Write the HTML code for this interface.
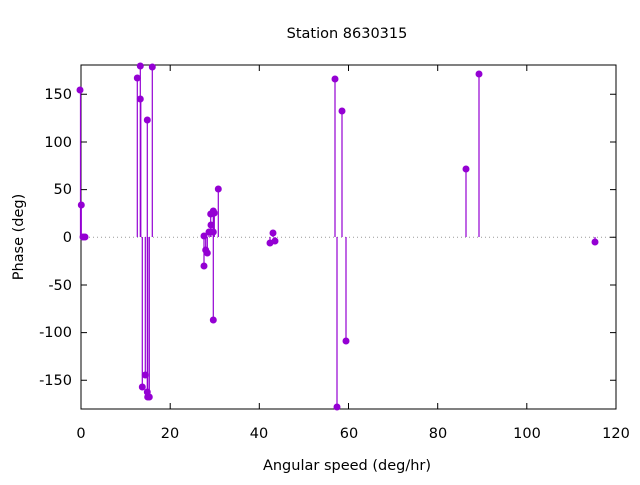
<!DOCTYPE html><html><head><style>body{margin:0;background:#fff}svg{font-family:"DejaVu Sans","Liberation Sans",sans-serif}</style></head><body>
<svg width="640" height="480" xmlns="http://www.w3.org/2000/svg">
<rect width="640" height="480" fill="#fff"/>
<text x="347" y="38" font-size="14.5" text-anchor="middle">Station 8630315</text>
<line x1="81" y1="237.3" x2="616" y2="237.3" stroke="#999" stroke-dasharray="1,3"/>
<g stroke="#000" stroke-width="1">
<rect x="81" y="65" width="535" height="344" fill="none"/>
<path d="M81,94.3h6M81,142h6M81,189.6h6M81,237.3h6M81,285h6M81,332.6h6M81,380.3h6M616,94.3h-6M616,142h-6M616,189.6h-6M616,237.3h-6M616,285h-6M616,332.6h-6M616,380.3h-6"/>
<path d="M170.2,409v-6M259.3,409v-6M348.5,409v-6M437.7,409v-6M526.8,409v-6M170.2,65v6M259.3,65v6M348.5,65v6M437.7,65v6M526.8,65v6"/>
</g>
<g font-size="14.5" text-anchor="end">
<text x="72" y="99">150</text><text x="72" y="147">100</text><text x="72" y="194">50</text><text x="72" y="242">0</text><text x="72" y="290">-50</text><text x="72" y="337">-100</text><text x="72" y="385">-150</text>
</g>
<g font-size="14.5" text-anchor="middle">
<text x="81" y="438">0</text><text x="170" y="438">20</text><text x="259" y="438">40</text><text x="349" y="438">60</text><text x="438" y="438">80</text><text x="527" y="438">100</text><text x="616" y="438">120</text>
<text x="347" y="470">Angular speed (deg/hr)</text>
<text transform="translate(23,237) rotate(-90)">Phase (deg)</text>
</g>
<g stroke="#9400d3" stroke-width="1.2" fill="#9400d3">
<path d="M80.5,237V90M81.3,237V205M137.3,237V78M140.3,237V66M140.8,237V99M147.3,237V120M152.3,237V67M142.3,237V387M145.3,237V375M147.3,237V392M147.7,237V397M149.3,237V397M204,237V266M205.7,237V250M207.3,237V253M209,237V232M211,237V225M210.7,237V214M213.3,237V211M214.3,237V213M213.3,237V320M218.3,237V189M270,237V243M273,237V233M275,237V241M335,237V79M337,237V407M342,237V111M346,237V341M466,237V169M479,237V74M595,237V242"/>
<g stroke="none">
<circle cx="80" cy="90" r="3.5"/><circle cx="81.3" cy="205" r="3.5"/><circle cx="83" cy="237" r="3.5"/><circle cx="85" cy="237" r="3.5"/>
<circle cx="137.3" cy="78" r="3.5"/><circle cx="140.3" cy="66" r="3.5"/><circle cx="140.3" cy="99" r="3.5"/><circle cx="147.3" cy="120" r="3.5"/><circle cx="152.3" cy="67" r="3.5"/>
<circle cx="142.3" cy="387" r="3.5"/><circle cx="145.3" cy="375" r="3.5"/><circle cx="147.3" cy="392" r="3.5"/><circle cx="147.7" cy="397" r="3.5"/><circle cx="149.3" cy="397" r="3.5"/>
<circle cx="204" cy="236" r="3.5"/><circle cx="204" cy="266" r="3.5"/><circle cx="205.7" cy="250" r="3.5"/><circle cx="207.3" cy="253" r="3.5"/><circle cx="209" cy="232" r="3.5"/><circle cx="211" cy="225" r="3.5"/><circle cx="210.7" cy="214" r="3.5"/><circle cx="213.3" cy="211" r="3.5"/><circle cx="214.3" cy="213" r="3.5"/><circle cx="213.3" cy="320" r="3.5"/><circle cx="213.3" cy="232" r="3.5"/><circle cx="218.3" cy="189" r="3.5"/>
<circle cx="270" cy="243" r="3.5"/><circle cx="273" cy="233" r="3.5"/><circle cx="275" cy="241" r="3.5"/>
<circle cx="335" cy="79" r="3.5"/><circle cx="337" cy="407" r="3.5"/><circle cx="342" cy="111" r="3.5"/><circle cx="346" cy="341" r="3.5"/>
<circle cx="466" cy="169" r="3.5"/><circle cx="479" cy="74" r="3.5"/><circle cx="595" cy="242" r="3.5"/>
</g></g>
</svg></body></html>
